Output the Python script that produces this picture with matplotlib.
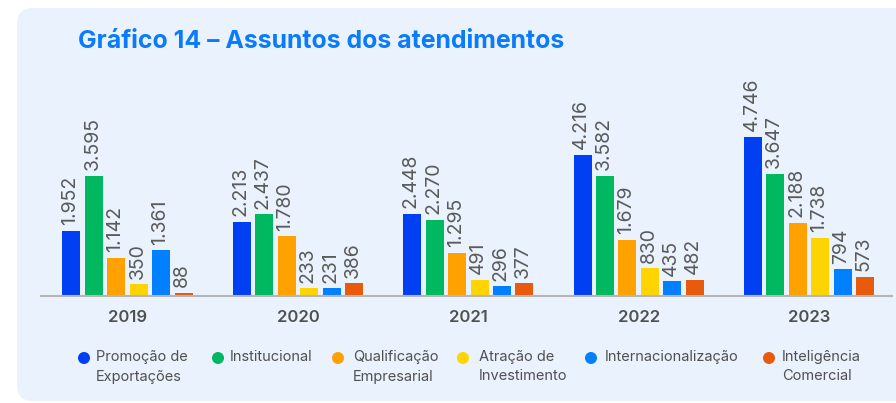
import matplotlib
matplotlib.use("Agg")
import matplotlib.pyplot as plt
from matplotlib.patches import FancyBboxPatch, Ellipse
import numpy as np

plt.rcParams['font.family'] = ['Inter', 'DejaVu Sans']

years = ["2019", "2020", "2021", "2022", "2023"]
series_names = [
    "Promoção de\nExportações",
    "Institucional",
    "Qualificação\nEmpresarial",
    "Atração de\nInvestimento",
    "Internacionalização",
    "Inteligência\nComercial",
]
promocao = [1952, 2213, 2448, 4216, 4746]
institucional = [3595, 2437, 2270, 3582, 3647]
qualificacao = [1142, 1780, 1295, 1679, 2188]
atracao = [350, 233, 491, 830, 1738]
internacionalizacao = [1361, 231, 296, 435, 794]
inteligencia = [88, 386, 377, 482, 573]

values = [promocao, institucional, qualificacao, atracao, internacionalizacao, inteligencia]
colors = ["#0040F2", "#00B85F", "#FFA200", "#FFD400", "#0080FF", "#E85A0C"]

W, H = 896, 403
fig = plt.figure(figsize=(W / 100, H / 100), dpi=100)
fig.patch.set_facecolor("white")

# rounded light-blue panel behind everything
panel = FancyBboxPatch((17 / W, 2 / H), 900 / W, 393 / H,
                       boxstyle="round,pad=0,rounding_size=0.018",
                       transform=fig.transFigure, facecolor="#EAF2FD",
                       edgecolor="none", zorder=-10, mutation_aspect=W / H)
fig.patches.append(panel)

fig.text(78 / W, 1 - 41 / H, "Gráfico 14 – Assuntos dos atendimentos",
         color="#0A7BFA", fontsize=17.9, fontweight="bold", va="center", ha="left")

base_y = 296
top_y = 60
ax = fig.add_axes([41 / W, 1 - base_y / H, (892 - 41) / W, (base_y - top_y) / H])
ax.set_facecolor("none")
ax.set_zorder(5)
scale = 0.0335  # px per unit
ax.set_ylim(0, (base_y - top_y) / scale)

x = np.arange(len(years))
step = 0.1315
width = 0.1056
offsets = (np.arange(6) - 2.5) * step
ax.set_xlim((41 - 127.5) / 170.4, (892 - 127.5) / 170.4)

for vals, off, c in zip(values, offsets, colors):
    bars = ax.bar(x + off, vals, width=width, color=c, zorder=2)
    for b, v in zip(bars, vals):
        ax.annotate(f"{v:,}".replace(",", "."),
                    (b.get_x() + b.get_width() / 2, v),
                    xytext=(-1, 4), textcoords="offset points",
                    rotation=90, ha="center", va="bottom",
                    fontsize=14, color="#5A5A5A")

for s in ["top", "right", "left"]:
    ax.spines[s].set_visible(False)
ax.spines["bottom"].set_color("#B5B5B5")
ax.spines["bottom"].set_linewidth(1.5)
ax.set_yticks([])
ax.set_xticks(x)
ax.set_xticklabels(years, fontsize=12, color="#505050", fontweight="semibold")
ax.tick_params(axis="x", length=0, pad=10)

# legend
marker_x = [84, 218, 338, 463, 591, 769]
text_x = [96, 230, 353, 479, 605, 782]
leg_y = 358
for mx, tx, name, c in zip(marker_x, text_x, series_names, colors):
    fig.patches.append(Ellipse((mx / W, 1 - leg_y / H), 12 / W, 12 / H,
                               transform=fig.transFigure, facecolor=c,
                               edgecolor="none", zorder=1))
    fig.text(tx / W, 1 - (leg_y - 8) / H, name, fontsize=10.5, color="#505050",
             ha="left", va="top", linespacing=1.5)

fig.savefig("out.png", dpi=100, facecolor="white")
